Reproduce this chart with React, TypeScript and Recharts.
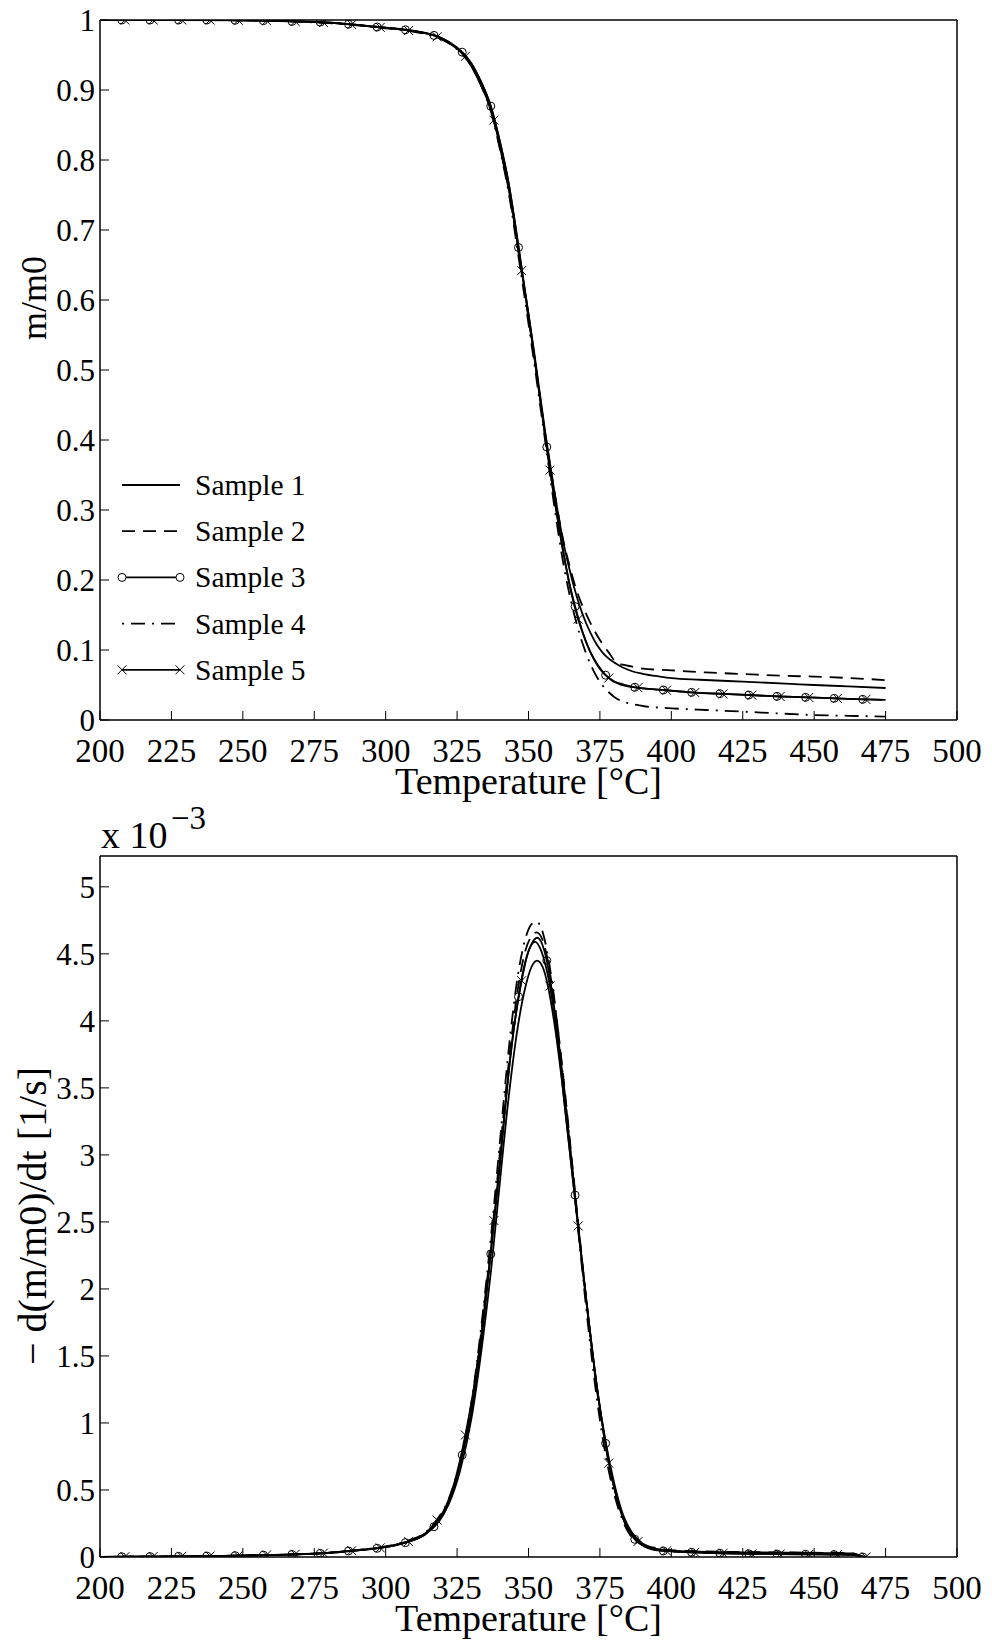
import React from 'react';
import { ComposedChart, Line, XAxis, YAxis, Legend } from 'recharts';

const FONT = '"Liberation Serif", "Times New Roman", Times, serif';

const tempTicks = [200, 225, 250, 275, 300, 325, 350, 375, 400, 425, 450, 475, 500];
const massTicks = [0, 0.1, 0.2, 0.3, 0.4, 0.5, 0.6, 0.7, 0.8, 0.9, 1];
const rateTicks = [0, 0.5, 1, 1.5, 2, 2.5, 3, 3.5, 4, 4.5, 5];

const sampleNames = ['Sample 1', 'Sample 2', 'Sample 3', 'Sample 4', 'Sample 5'];

// temperatures where the markers of sample 3 (o) and sample 5 (x) sit
const s3Marks = [207.6, 217.5, 227.5, 237.4, 247.3, 257.2, 267.2, 277.1, 287.0, 297.0, 306.9, 316.9, 326.8, 336.8, 346.5, 356.4, 366.3, 377.0, 387.2, 397.2, 407.1, 417.0, 427.1, 437.0, 447.0, 457.0, 467.0];
const s5Marks = [208.7, 218.6, 228.6, 238.5, 248.4, 258.3, 268.3, 278.2, 288.1, 298.1, 308.0, 318.0, 327.9, 337.9, 347.6, 357.5, 367.4, 378.1, 388.3, 398.3, 408.2, 418.1, 428.2, 438.1, 448.1, 458.1, 468.1];

// ---- m/m0 vs temperature ----
const mass1: [number, number][] = [
  [200, 1], [210, 1], [230, 1], [250, 0.9996], [260, 0.999], [270, 0.998], [280, 0.9965], [290, 0.993], [300, 0.989],
  [310, 0.9845], [318, 0.977], [322, 0.969], [327, 0.953], [330, 0.938], [333, 0.915], [337, 0.874], [340, 0.826],
  [343, 0.768], [346.5, 0.677], [349, 0.607], [352, 0.525], [356, 0.407], [359, 0.328], [362, 0.258], [364, 0.221],
  [366, 0.189], [368, 0.162], [370, 0.14], [372, 0.122], [374, 0.107], [376, 0.096], [378, 0.088], [380, 0.082],
  [383, 0.075], [386, 0.07], [390, 0.066], [396, 0.062], [400, 0.0598], [410, 0.0575], [425, 0.0548], [440, 0.052],
  [450, 0.05], [462, 0.048], [475, 0.0457],
];
const mass2: [number, number][] = [
  [200, 1], [230, 1], [250, 0.9996], [270, 0.998], [290, 0.993], [300, 0.989], [310, 0.984], [318, 0.976], [322, 0.968],
  [327, 0.951], [330, 0.935], [333, 0.911], [337, 0.868], [340, 0.818], [343, 0.76], [346.5, 0.668], [349, 0.601],
  [352, 0.52], [356, 0.405], [359, 0.328], [362, 0.26], [364, 0.226], [366, 0.196], [368, 0.172], [370, 0.153],
  [372, 0.136], [374, 0.121], [376, 0.108], [378, 0.097], [380.8, 0.082], [383, 0.079], [386, 0.0765], [390, 0.0735],
  [400, 0.071], [412, 0.068], [425, 0.0657], [440, 0.063], [450, 0.062], [462, 0.06], [475, 0.057],
];
const mass3: [number, number][] = [
  [200, 1], [207.6, 1], [217.5, 1], [227.5, 1], [237.4, 1], [247.3, 0.9996], [257.2, 0.999], [267.2, 0.998],
  [277.1, 0.997], [287.0, 0.994], [297.0, 0.99], [306.9, 0.986], [316.9, 0.978], [322, 0.969], [326.8, 0.954],
  [330, 0.938], [333, 0.915], [336.8, 0.877], [340, 0.826], [343, 0.768], [346.5, 0.675], [349, 0.604], [352, 0.52],
  [356.4, 0.39], [359, 0.318], [362, 0.243], [366.3, 0.162], [369, 0.125], [372, 0.094], [374.5, 0.077], [377.0, 0.064],
  [380, 0.055], [383, 0.051], [387.2, 0.0467], [392, 0.0445], [397.2, 0.0429], [407.1, 0.0395], [417.0, 0.0376],
  [427.1, 0.0357], [437.0, 0.0338], [447.0, 0.0324], [457.0, 0.031], [467.0, 0.0295], [474, 0.0288],
];
const mass4: [number, number][] = [
  [200, 1], [230, 1], [250, 0.9995], [270, 0.9975], [290, 0.9925], [300, 0.988], [310, 0.983], [318, 0.975], [322, 0.967],
  [327, 0.95], [330, 0.934], [333, 0.91], [337, 0.867], [340, 0.815], [343, 0.755], [346.5, 0.662], [349, 0.594],
  [352, 0.51], [354, 0.452], [356, 0.394], [358, 0.335], [360, 0.279], [362, 0.228], [364, 0.186], [366, 0.151],
  [368, 0.121], [370, 0.097], [372, 0.077], [374, 0.061], [376, 0.049], [378, 0.04], [380, 0.033], [382, 0.028],
  [386, 0.023], [390, 0.02], [400, 0.0167], [412, 0.0143], [425, 0.012], [437, 0.0095], [450, 0.0071], [462, 0.006],
  [475, 0.0048],
];
const mass5: [number, number][] = [
  [200, 1], [208.7, 1], [218.6, 1], [228.6, 1], [238.5, 1], [248.4, 0.9995], [258.3, 0.999], [268.3, 0.998],
  [278.2, 0.9965], [288.1, 0.9935], [298.1, 0.9895], [308.0, 0.985], [318.0, 0.976], [322, 0.967], [327.9, 0.948],
  [330, 0.934], [333, 0.91], [337.9, 0.857], [340, 0.818], [343, 0.76], [347.6, 0.642], [350, 0.58], [353, 0.49],
  [357.5, 0.357], [362, 0.245], [364.5, 0.19], [367.4, 0.144], [370, 0.113], [373, 0.086], [375, 0.073], [378.1, 0.06],
  [382, 0.051], [388.3, 0.0462], [398.3, 0.0425], [408.2, 0.0392], [418.1, 0.0373], [428.2, 0.0354], [438.1, 0.0336],
  [448.1, 0.0322], [458.1, 0.0308], [468.1, 0.0294], [475, 0.0287],
];

// ---- -d(m/m0)/dt, in units of 1e-3 1/s ----
const rate1: [number, number][] = [
  [200, 0], [210, 0.002], [230, 0.005], [250, 0.011], [270, 0.02], [280, 0.03], [290, 0.05], [300, 0.075], [308, 0.115],
  [314, 0.17], [318, 0.25], [322, 0.39], [326, 0.64], [330, 1.03], [334, 1.62], [337, 2.16], [340, 2.8], [343, 3.42],
  [346, 3.92], [349, 4.26], [351, 4.4], [353, 4.45], [355, 4.4], [357, 4.24], [359, 3.99], [362, 3.5], [365, 2.92],
  [368, 2.33], [371, 1.77], [374, 1.26], [377, 0.86], [380, 0.55], [383, 0.32], [386, 0.19], [390, 0.1], [395, 0.06],
  [400, 0.048], [410, 0.04], [425, 0.035], [440, 0.032], [455, 0.029], [463, 0.027], [467, 0],
];
const rate2: [number, number][] = [
  [200, 0], [210, 0.002], [230, 0.005], [250, 0.011], [270, 0.021], [280, 0.031], [290, 0.051], [300, 0.077], [308, 0.12],
  [314, 0.18], [318, 0.27], [322, 0.42], [326, 0.69], [330, 1.12], [334, 1.78], [337, 2.36], [340, 3.02], [343, 3.67],
  [346, 4.2], [349, 4.53], [351, 4.63], [352.8, 4.66], [355, 4.6], [357, 4.42], [359, 4.15], [362, 3.62], [365, 3.0],
  [368, 2.37], [371, 1.77], [374, 1.24], [377, 0.83], [380, 0.52], [383, 0.31], [386, 0.18], [390, 0.1], [395, 0.065],
  [400, 0.052], [410, 0.043], [425, 0.037], [440, 0.034], [455, 0.031], [463, 0.029], [467, 0],
];
const rate3: [number, number][] = [
  [200, 0], [207.6, 0.002], [217.5, 0.003], [227.5, 0.005], [237.4, 0.007], [247.3, 0.01], [257.2, 0.014], [267.2, 0.019],
  [277.1, 0.027], [287.0, 0.045], [297.0, 0.065], [306.9, 0.107], [312, 0.15], [316.9, 0.226], [320, 0.31], [323, 0.46],
  [326.8, 0.761], [330, 1.08], [333, 1.52], [336.8, 2.26], [340, 2.92], [343, 3.6], [346.5, 4.18], [349, 4.45],
  [351, 4.57], [353, 4.62], [356.4, 4.45], [359, 4.1], [362, 3.58], [366.3, 2.7], [369, 2.15], [372, 1.6], [374.5, 1.18],
  [377.0, 0.848], [380, 0.52], [383.5, 0.27], [387.2, 0.132], [392, 0.07], [397.2, 0.045], [407.1, 0.035], [417.0, 0.028],
  [427.1, 0.024], [437.0, 0.022], [447.0, 0.02], [457.0, 0.018], [463, 0.016], [467.0, 0],
];
const rate4: [number, number][] = [
  [200, 0], [210, 0.002], [230, 0.005], [250, 0.011], [270, 0.021], [280, 0.031], [290, 0.052], [300, 0.079], [308, 0.123],
  [314, 0.185], [318, 0.28], [322, 0.43], [326, 0.71], [330, 1.15], [334, 1.82], [337, 2.42], [340, 3.1], [343, 3.77],
  [346, 4.3], [349, 4.62], [351, 4.72], [352.8, 4.74], [355, 4.66], [357, 4.46], [359, 4.17], [362, 3.6], [365, 2.96],
  [368, 2.31], [371, 1.7], [374, 1.17], [377, 0.76], [380, 0.47], [383, 0.27], [386, 0.15], [390, 0.085], [395, 0.05],
  [400, 0.04], [410, 0.034], [425, 0.029], [440, 0.025], [455, 0.022], [463, 0.02], [467, 0],
];
const rate5: [number, number][] = [
  [200, 0], [208.7, 0.002], [218.6, 0.003], [228.6, 0.005], [238.5, 0.007], [248.4, 0.01], [258.3, 0.015], [268.3, 0.02],
  [278.2, 0.029], [288.1, 0.047], [298.1, 0.068], [308.0, 0.115], [313, 0.16], [318.0, 0.276], [321, 0.37], [324, 0.55],
  [327.9, 0.91], [331, 1.28], [334, 1.75], [337.9, 2.51], [341, 3.18], [344, 3.8], [347.6, 4.3], [350, 4.52], [352.3, 4.59],
  [354.5, 4.52], [357.5, 4.26], [360, 3.9], [363, 3.3], [367.4, 2.47], [370, 1.95], [373, 1.42], [375.5, 1.04],
  [378.1, 0.7], [381, 0.43], [384, 0.24], [388.3, 0.115], [393, 0.065], [398.3, 0.045], [408.2, 0.035], [418.1, 0.028],
  [428.2, 0.024], [438.1, 0.022], [448.1, 0.02], [458.1, 0.018], [464, 0.016], [468.1, 0],
];

type Row = { t: number; v: number; m: boolean };
const toRows = (pts: [number, number][], marks?: number[]): Row[] =>
  pts.map(([t, v]) => ({ t, v, m: marks ? marks.includes(t) : false }));

const circleDot = (p: any) =>
  p.payload.m ? (
    <circle key={`c${p.index}`} cx={p.cx} cy={p.cy} r={4} fill="none" stroke="#000" strokeWidth={1} />
  ) : (
    <g key={`c${p.index}`} />
  );

const crossDot = (p: any) =>
  p.payload.m ? (
    <path
      key={`x${p.index}`}
      d={`M${p.cx - 4.5},${p.cy - 4.5}L${p.cx + 4.5},${p.cy + 4.5}M${p.cx - 4.5},${p.cy + 4.5}L${p.cx + 4.5},${p.cy - 4.5}`}
      stroke="#000"
      strokeWidth={1}
      fill="none"
    />
  ) : (
    <g key={`x${p.index}`} />
  );

const styles = [
  { dash: undefined, dot: false as any, marker: 'none' },
  { dash: '13 8', dot: false as any, marker: 'none' },
  { dash: undefined, dot: circleDot, marker: 'circle' },
  { dash: '2 7 14 7', dot: false as any, marker: 'none' },
  { dash: undefined, dot: crossDot, marker: 'cross' },
];

const massData = [toRows(mass1), toRows(mass2), toRows(mass3, s3Marks), toRows(mass4), toRows(mass5, s5Marks)];
const rateData = [toRows(rate1), toRows(rate2), toRows(rate3, s3Marks), toRows(rate4), toRows(rate5, s5Marks)];

const XTick = ({ x, y, payload }: any) => (
  <g>
    <line x1={x} y1={y} x2={x} y2={y - 9} stroke="#000" strokeWidth={1} />
    <text x={x} y={y + 42} textAnchor="middle" fontSize={33} fontFamily={FONT} fill="#000">
      {payload.value}
    </text>
  </g>
);

const YTick = ({ x, y, payload }: any) => (
  <g>
    <line x1={x} y1={y} x2={x + 9} y2={y} stroke="#000" strokeWidth={1} />
    <text x={x - 5} y={y + 11} textAnchor="end" fontSize={31} fontFamily={FONT} fill="#000">
      {payload.value}
    </text>
  </g>
);

function LegendBox() {
  return (
    <svg width={240} height={240} style={{ display: 'block' }}>
      {sampleNames.map((name, i) => {
        const y = 30 + i * 46.2;
        const s = styles[i];
        return (
          <g key={name}>
            <line x1={12} y1={y} x2={70} y2={y} stroke="#000" strokeWidth={1.8} strokeDasharray={s.dash} />
            {s.marker === 'circle' && (
              <>
                <circle cx={12} cy={y} r={4} fill="#fff" stroke="#000" strokeWidth={1} />
                <circle cx={70} cy={y} r={4} fill="#fff" stroke="#000" strokeWidth={1} />
              </>
            )}
            {s.marker === 'cross' &&
              [12, 70].map((cx) => (
                <path
                  key={cx}
                  d={`M${cx - 4.5},${y - 4.5}L${cx + 4.5},${y + 4.5}M${cx - 4.5},${y + 4.5}L${cx + 4.5},${y - 4.5}`}
                  stroke="#000"
                  strokeWidth={1}
                />
              ))}
            <text x={85} y={y + 10} fontSize={29.5} fontFamily={FONT} fill="#000">
              {name}
            </text>
          </g>
        );
      })}
    </svg>
  );
}

type PanelProps = {
  height: number;
  marginTop: number;
  marginBottom: number;
  xAxisHeight: number;
  xLabelDy: number;
  yDomain: [number, number];
  yTicks: number[];
  series: Row[][];
  yLabel: string;
  yLabelY: number;
  yLabelSize: number;
  exponent?: boolean;
  legend?: boolean;
};

function Panel(props: PanelProps) {
  const { height, marginTop, marginBottom, xAxisHeight, xLabelDy, yDomain, yTicks, series, yLabel, yLabelY, yLabelSize, exponent, legend } = props;
  return (
    <ComposedChart width={992} height={height} margin={{ top: marginTop, right: 35, bottom: marginBottom, left: 0 }}>
      <XAxis
        dataKey="t"
        type="number"
        domain={[200, 500]}
        ticks={tempTicks}
        interval={0}
        allowDataOverflow
        height={xAxisHeight}
        tickSize={0}
        tickMargin={0}
        tickLine={false}
        axisLine={{ stroke: '#000', strokeWidth: 1.5 }}
        tick={<XTick />}
        label={{
          content: ({ viewBox }: any) => (
            <text
              x={viewBox.x + viewBox.width / 2}
              y={viewBox.y + xLabelDy}
              textAnchor="middle"
              fontSize={38}
              fontFamily={FONT}
              fill="#000"
            >
              Temperature [°C]
            </text>
          ),
        }}
      />
      <XAxis
        xAxisId="top"
        orientation="top"
        mirror
        type="number"
        domain={[200, 500]}
        ticks={tempTicks}
        interval={0}
        allowDataOverflow
        tickSize={9}
        tick={false}
        tickLine={{ stroke: '#000', strokeWidth: 1 }}
        axisLine={{ stroke: '#000', strokeWidth: 1.5 }}
      />
      <YAxis
        type="number"
        domain={yDomain}
        ticks={yTicks}
        interval={0}
        allowDataOverflow
        width={100}
        tickSize={0}
        tickMargin={0}
        tickLine={false}
        axisLine={{ stroke: '#000', strokeWidth: 1.5 }}
        tick={<YTick />}
        label={{
          content: ({ viewBox }: any) => (
            <g>
              <text
                x={46}
                y={yLabelY}
                transform={`rotate(-90, 46, ${yLabelY})`}
                textAnchor="middle"
                fontSize={yLabelSize}
                fontFamily={FONT}
                fill="#000"
              >
                {yLabel}
              </text>
              {exponent && (
                <>
                  <text x={101} y={viewBox.y - 8} fontSize={38} fontFamily={FONT} fill="#000">
                    x 10
                  </text>
                  <text x={171} y={viewBox.y - 27} fontSize={33} fontFamily={FONT} fill="#000">
                    −3
                  </text>
                </>
              )}
            </g>
          ),
        }}
      />
      <YAxis
        yAxisId="right"
        orientation="right"
        mirror
        type="number"
        domain={yDomain}
        ticks={yTicks}
        interval={0}
        allowDataOverflow
        width={10}
        tickSize={9}
        tick={false}
        tickLine={{ stroke: '#000', strokeWidth: 1 }}
        axisLine={{ stroke: '#000', strokeWidth: 1.5 }}
      />
      {series.map((data, i) => (
        <Line
          key={sampleNames[i]}
          data={data}
          dataKey="v"
          name={sampleNames[i]}
          type="monotone"
          stroke="#000"
          strokeWidth={1.8}
          strokeDasharray={styles[i].dash}
          dot={styles[i].dot}
          activeDot={false}
          isAnimationActive={false}
        />
      ))}
      {legend && (
        <Legend
          layout="vertical"
          align="center"
          verticalAlign="middle"
          wrapperStyle={{ left: 110, top: 455, width: 240, height: 240 }}
          content={() => <LegendBox />}
        />
      )}
    </ComposedChart>
  );
}

export default function App() {
  return (
    <div style={{ position: 'absolute', left: 0, top: 0, width: 992, height: 1642, background: '#fff' }}>
      <div style={{ position: 'absolute', left: 0, top: 0 }}>
        <Panel
          height={815}
          marginTop={20}
          marginBottom={15}
          xAxisHeight={80}
          xLabelDy={74}
          yDomain={[0, 1]}
          yTicks={massTicks}
          series={massData}
          yLabel="m/m0"
          yLabelY={298}
          yLabelSize={36}
          legend
        />
      </div>
      <div style={{ position: 'absolute', left: 0, top: 800 }}>
        <Panel
          height={842}
          marginTop={56}
          marginBottom={0}
          xAxisHeight={85}
          xLabelDy={74}
          yDomain={[0, 5.23]}
          yTicks={rateTicks}
          series={rateData}
          yLabel="− d(m/m0)/dt [1/s]"
          yLabelY={416}
          yLabelSize={40}
          exponent
        />
      </div>
    </div>
  );
}
